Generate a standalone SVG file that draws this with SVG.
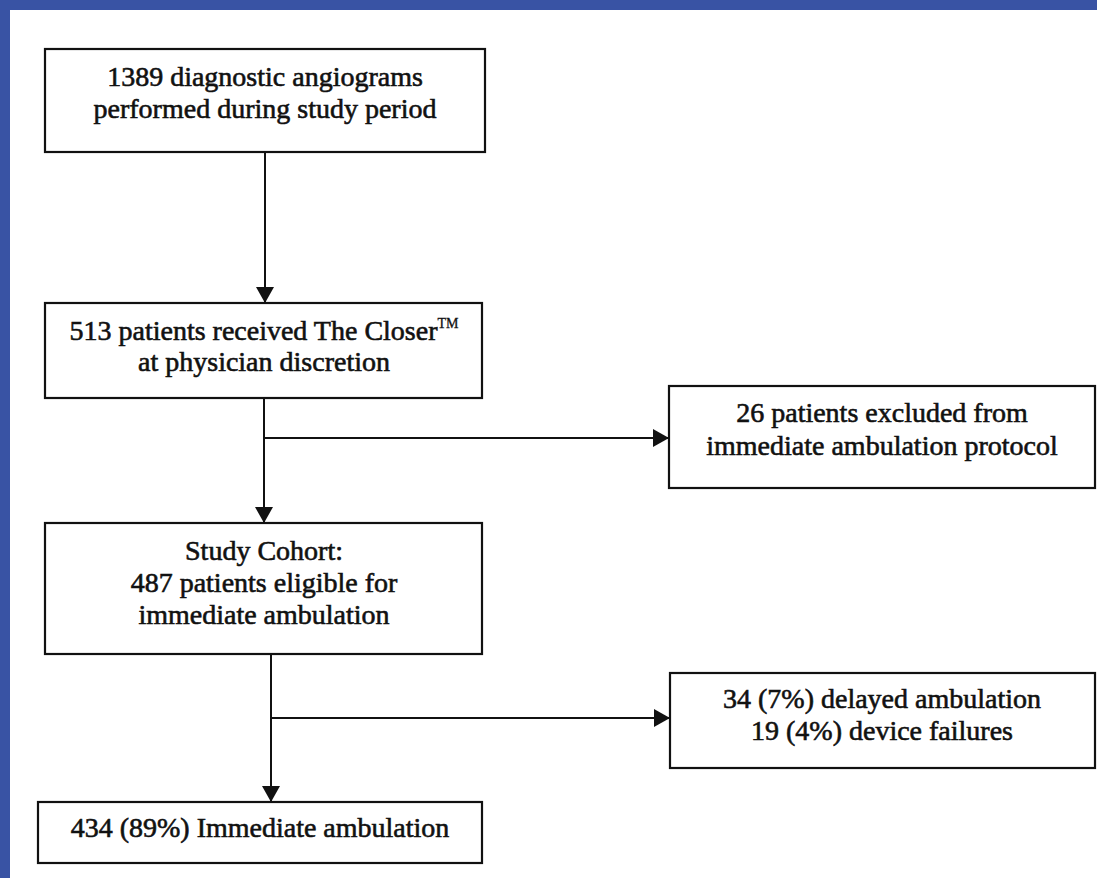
<svg xmlns="http://www.w3.org/2000/svg" width="1097" height="878" viewBox="0 0 1097 878">
<style>
.box{fill:#fff;stroke:#111;stroke-width:2.2}
.t{font-family:"Liberation Serif","Times New Roman",serif;font-size:28px;fill:#111;text-anchor:middle;stroke:#111;stroke-width:0.6}
.sup{font-size:14px;stroke-width:0.3}
.c{stroke:#111;stroke-width:2;fill:none}
</style>
<defs>
<marker id="ah" markerUnits="userSpaceOnUse" markerWidth="20" markerHeight="20" refX="16" refY="9" orient="auto">
<path d="M0,0 L16,9 L0,18 Z" fill="#111"/>
</marker>
</defs>
<rect x="0" y="0" width="1097" height="878" fill="#fff"/>
<rect x="0" y="0" width="1097" height="10" fill="#3953a4"/>
<rect x="0" y="0" width="10" height="878" fill="#3953a4"/>
<g id="connectors">
<line class="c" x1="265" y1="153" x2="265" y2="303" marker-end="url(#ah)"/>
<line class="c" x1="264" y1="398" x2="264" y2="523" marker-end="url(#ah)"/>
<line class="c" x1="264" y1="438" x2="669" y2="438" marker-end="url(#ah)"/>
<line class="c" x1="271" y1="654" x2="271" y2="802" marker-end="url(#ah)"/>
<line class="c" x1="271" y1="718" x2="670" y2="718" marker-end="url(#ah)"/>
</g>
<g id="n1">
<rect class="box" x="45" y="49" width="440" height="103"/>
<text class="t" x="265" y="86">1389 diagnostic angiograms</text>
<text class="t" x="265" y="118">performed during study period</text>
</g>
<g id="n2">
<rect class="box" x="45" y="303" width="437" height="95"/>
<text class="t" x="264" y="340">513 patients received The Closer<tspan class="sup" dy="-12">TM</tspan></text>
<text class="t" x="264" y="371">at physician discretion</text>
</g>
<g id="n3">
<rect class="box" x="669" y="386" width="426" height="102"/>
<text class="t" x="882" y="422">26 patients excluded from</text>
<text class="t" x="882" y="455">immediate ambulation protocol</text>
</g>
<g id="n4">
<rect class="box" x="45" y="523" width="437" height="131"/>
<text class="t" x="264" y="560">Study Cohort:</text>
<text class="t" x="264" y="592">487 patients eligible for</text>
<text class="t" x="264" y="624">immediate ambulation</text>
</g>
<g id="n5">
<rect class="box" x="670" y="673" width="425" height="95"/>
<text class="t" x="882" y="708">34 (7%) delayed ambulation</text>
<text class="t" x="882" y="740">19 (4%) device failures</text>
</g>
<g id="n6">
<rect class="box" x="38" y="802" width="444" height="61"/>
<text class="t" x="260" y="837">434 (89%) Immediate ambulation</text>
</g>
</svg>
